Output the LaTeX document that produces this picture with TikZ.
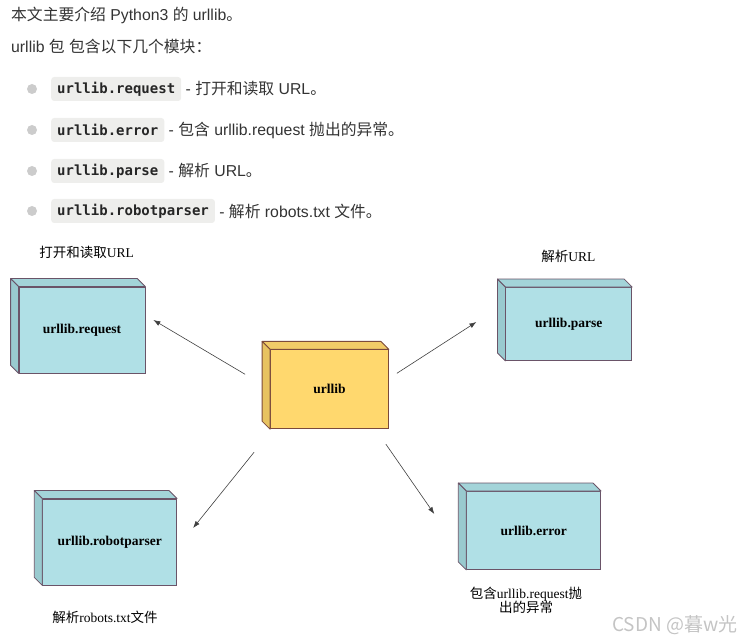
\documentclass[tikz,border=0pt]{standalone}
\usepackage{fontspec}
\setmainfont{Liberation Serif}
\newfontfamily\cjk{Noto Sans CJK SC}
\newfontfamily\arialfont{Liberation Sans}
\newfontfamily\codefont{DejaVu Sans Mono}
\usetikzlibrary{arrows.meta,positioning}

\definecolor{boxblue}{HTML}{B0E0E6}
\definecolor{boxbluetop}{HTML}{A3D4D9}
\definecolor{boxblueside}{HTML}{99CACF}
\definecolor{boxyellow}{HTML}{FFD86E}
\definecolor{boxyellowtop}{HTML}{F1CB68}
\definecolor{boxyellowside}{HTML}{E7C261}
\definecolor{edgeblue}{HTML}{6A5468}
\definecolor{edgeyellow}{HTML}{7B4A3C}
\definecolor{textgray}{HTML}{333333}
\definecolor{codegray}{HTML}{EEEEEC}
\definecolor{dotgray}{HTML}{CCCCCC}
\definecolor{markgray}{HTML}{C4C4C4}

\tikzset{
  module/.style={draw=edgeblue, fill=boxblue, line width=0.8pt, inner sep=0pt,
    font=\bfseries\fontsize{13.5}{16}\selectfont},
  core/.style={module, draw=edgeyellow, fill=boxyellow},
  note/.style={font=\fontsize{13.5}{14.5}\selectfont, align=center, inner sep=0pt},
  link/.style={-{Latex[length=7pt,width=5pt]}, draw=black!75, line width=0.6pt},
  codebox/.style={fill=codegray, rounded corners=3pt, minimum height=24pt,
    inner xsep=6pt, inner ysep=0pt, text=black!85,
    font=\codefont\bfseries\fontsize{14}{16}\selectfont},
  desc/.style={font=\arialfont\fontsize{15.8}{18}\selectfont, text=textgray, inner sep=0pt},
  dot/.style={circle, fill=dotgray, minimum size=10pt, inner sep=0pt},
}

% top and left faces of a box node
\newcommand{\depthfaces}[4]{%
  \filldraw[fill=#2, draw=#4, line width=0.8pt, line join=round]
    (#1.north west) -- ++(-8,-8) -- ([shift={(-8,-8)}]#1.north east) -- (#1.north east) -- cycle;
  \filldraw[fill=#3, draw=#4, line width=0.8pt, line join=round]
    (#1.north west) -- ++(-8,-8) -- ([shift={(-8,-8)}]#1.south west) -- (#1.south west) -- cycle;
}

\begin{document}
\begin{tikzpicture}[x=1pt, y=-1pt]
  \useasboundingbox (0,0) rectangle (756,644);

  % intro lines
  \node[desc, anchor=west] (intro) at (11,15) {{\cjk 本文主要介绍} Python3 {\cjk 的} urllib{\cjk 。}};
  \node[desc, anchor=west] (lead) at (11,47) {urllib {\cjk 包} {\cjk 包含以下几个模块：}};

  % module list
  \foreach \i/\y/\mod/\what in {1/89/request/{{\cjk 打开和读取} URL{\cjk 。}},
                                2/130/error/{{\cjk 包含} urllib.request {\cjk 抛出的异常。}},
                                3/171/parse/{{\cjk 解析} URL{\cjk 。}},
                                4/211/robotparser/{{\cjk 解析} robots.txt {\cjk 文件。}}} {
    \node[dot] (dot\i) at (32,\y) {};
    \node[codebox, anchor=west] (code\i) at (51,\y) {urllib.\mod};
    \node[desc, right=4pt of code\i] (desc\i) {- \what};
  }

  % boxes
  \node[module, minimum width=126pt, minimum height=86pt] (request) at (82,330) {urllib.request};
  \depthfaces{request}{boxbluetop}{boxblueside}{edgeblue}
  \node[core, minimum width=118pt, minimum height=79pt] (urllib) at (329.5,389.3) {urllib};
  \depthfaces{urllib}{boxyellowtop}{boxyellowside}{edgeyellow}
  \node[module, minimum width=126pt, minimum height=73pt] (parse) at (568.8,324) {urllib.parse};
  \depthfaces{parse}{boxbluetop}{boxblueside}{edgeblue}
  \node[module, minimum width=134pt, minimum height=86pt] (robotparser) at (109.7,542) {urllib.robotparser};
  \depthfaces{robotparser}{boxbluetop}{boxblueside}{edgeblue}
  \node[module, minimum width=134pt, minimum height=78pt] (error) at (533.7,530.5) {urllib.error};
  \depthfaces{error}{boxbluetop}{boxblueside}{edgeblue}

  % notes
  \node[note] (requestnote) at (86.7,252) {{\cjk 打开和读取}URL};
  \node[note] (parsenote) at (568.3,256) {{\cjk 解析}URL};
  \node[note] (robotnote) at (105,617) {{\cjk 解析}robots.txt{\cjk 文件}};
  \node[note] (errornote) at (526,600.5) {{\cjk 包含}urllib.request{\cjk 抛}\\{\cjk 出的异常}};

  % arrows
  \draw[link] ([shift={(-25,-15)}]urllib.west) -- ([shift={(8,-10)}]request.east);
  \draw[link] ([shift={(8,-16)}]urllib.east) -- ([shift={(-29,-2)}]parse.west);
  \draw[link] ([shift={(-16,23)}]urllib.south west) -- ([shift={(16,-14)}]robotparser.east);
  \draw[link] ([shift={(-3,15)}]urllib.south east) -- ([shift={(-32,-16.5)}]error.west);

  \node[font=\cjk\fontsize{19}{22}\selectfont, text=markgray, anchor=east] (mark) at (741,625) {CSDN @暮w光};
\end{tikzpicture}
\end{document}
